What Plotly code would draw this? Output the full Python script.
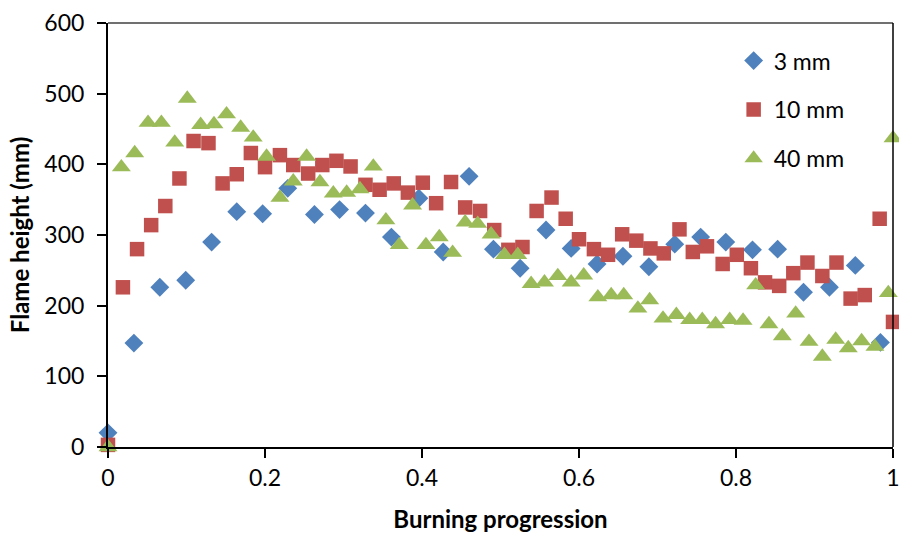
import plotly.graph_objects as go

# ---- data ----
x_3mm = [0, 0.033, 0.066, 0.099, 0.132, 0.164, 0.197, 0.229, 0.263, 0.295, 0.328,
         0.361, 0.396, 0.427, 0.460, 0.491, 0.525, 0.558, 0.590, 0.623, 0.656,
         0.689, 0.722, 0.755, 0.787, 0.821, 0.853, 0.886, 0.919, 0.952, 0.984]
y_3mm = [20, 147, 226, 236, 290, 333, 330, 366, 329, 336, 331,
         297, 352, 276, 383, 280, 253, 307, 281, 259, 270,
         255, 287, 297, 290, 279, 280, 219, 226, 257, 148]

x_10mm = [0, 0.019, 0.037, 0.055, 0.073, 0.091, 0.109, 0.128, 0.146, 0.164,
          0.182, 0.200, 0.219, 0.236, 0.255, 0.273, 0.291, 0.309, 0.328, 0.346,
          0.364, 0.382, 0.401, 0.418, 0.437, 0.455, 0.474, 0.492, 0.510, 0.528,
          0.546, 0.565, 0.583, 0.600, 0.619, 0.637, 0.655, 0.673, 0.691, 0.708,
          0.728, 0.745, 0.763, 0.783, 0.801, 0.819, 0.837, 0.855, 0.873, 0.891,
          0.910, 0.928, 0.946, 0.964, 0.983, 1.000]
y_10mm = [3, 226, 280, 314, 341, 380, 433, 430, 373, 386,
          416, 396, 413, 399, 387, 399, 405, 397, 371, 364,
          373, 360, 374, 345, 375, 339, 334, 307, 279, 283,
          334, 353, 323, 294, 280, 272, 301, 292, 281, 274,
          308, 276, 284, 259, 272, 253, 233, 228, 246, 261,
          242, 261, 210, 215, 323, 177]

x_40mm = [0, 0.017, 0.034, 0.051, 0.068, 0.085, 0.101, 0.118, 0.135, 0.151,
          0.169, 0.185, 0.202, 0.219, 0.236, 0.253, 0.270, 0.287, 0.304, 0.321,
          0.338, 0.354, 0.371, 0.388, 0.405, 0.422, 0.439, 0.455, 0.471, 0.488,
          0.505, 0.522, 0.539, 0.556, 0.573, 0.590, 0.606, 0.624, 0.641, 0.657,
          0.675, 0.690, 0.707, 0.724, 0.741, 0.757, 0.774, 0.792, 0.809, 0.825,
          0.842, 0.859, 0.876, 0.893, 0.910, 0.927, 0.943, 0.960, 0.977, 0.994,
          1.000]
y_40mm = [0, 396, 416, 459, 459, 431, 493, 456, 457, 471,
          452, 438, 411, 353, 376, 411, 375, 359, 360, 365,
          397, 321, 286, 342, 286, 297, 275, 318, 316, 301,
          272, 272, 231, 233, 242, 233, 243, 212, 215, 215,
          196, 208, 182, 187, 180, 180, 174, 180, 179, 229,
          174, 157, 189, 149, 128, 152, 140, 150, 142, 218,
          437]

x_ticks = [0, 0.2, 0.4, 0.6, 0.8, 1]
x_tick_text = ["0", "0.2", "0.4", "0.6", "0.8", "1"]
y_ticks = [0, 100, 200, 300, 400, 500, 600]

FONT = "Lato"

series = [
    ("3 mm", x_3mm, y_3mm, "diamond", "#4F81BD", 14.5),
    ("10 mm", x_10mm, y_10mm, "square", "#C0504D", 14.5),
    ("40 mm", x_40mm, y_40mm, "triangle-up", "#9BBB59", 16.5),
]

fig = go.Figure()
for name, xs, ys, sym, col, sz in series:
    fig.add_trace(go.Scatter(
        x=xs, y=ys, mode="markers", name=name, legendgroup=name,
        marker=dict(symbol=sym, color=col, size=sz, line=dict(width=0)),
        cliponaxis=False,
    ))

fig.update_layout(
    width=899, height=533,
    margin=dict(l=108, r=6, t=23, b=86),
    paper_bgcolor="white", plot_bgcolor="white",
    font=dict(family=FONT, size=23, color="black"),
    showlegend=True,
    legend=dict(x=0.797, y=0.962, xanchor="left", yanchor="top",
                bgcolor="rgba(0,0,0,0)", font=dict(size=23),
                tracegroupgap=16, traceorder="grouped"),
    xaxis=dict(range=[0, 1], tickvals=x_ticks, ticktext=x_tick_text,
               automargin=False, ticklabelstandoff=0,
               ticklabeloverflow="allow",
               showgrid=False, zeroline=False, showline=True,
               linecolor="black", linewidth=2, ticks="outside",
               ticklen=9, tickwidth=2, tickcolor="black",
               title=dict(text="<b>Burning progression</b>", standoff=22,
                          font=dict(size=24))),
    yaxis=dict(range=[0, 600], tickvals=y_ticks,
               automargin=False, ticklabelstandoff=8,
               ticklabeloverflow="allow",
               showgrid=False, zeroline=False, showline=True,
               linecolor="black", linewidth=2, ticks="outside",
               ticklen=9, tickwidth=2, tickcolor="black",
               title=dict(text="<b>Flame height (mm)</b>", standoff=8,
                          font=dict(size=24))),
    shapes=[
        dict(type="line", xref="paper", yref="paper", x0=0, x1=1, y0=1, y1=1,
             line=dict(color="#404040", width=1.5)),
        dict(type="line", xref="paper", yref="paper", x0=1, x1=1, y0=1, y1=0,
             line=dict(color="black", width=1.5)),
    ],
)

fig.write_html("out.html",
               config={"displayModeBar": False},
               post_script="document.body.style.margin='0';document.body.style.overflow='hidden';")
